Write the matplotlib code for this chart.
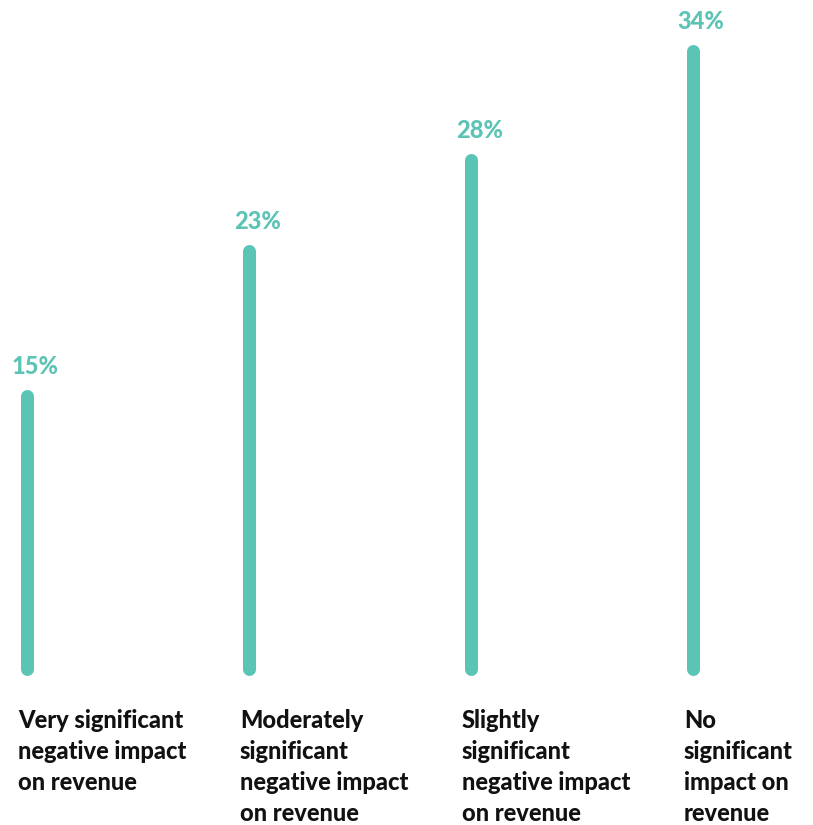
import matplotlib
matplotlib.use("Agg")
import matplotlib.pyplot as plt

categories = [
    "Very significant\nnegative impact\non revenue",
    "Moderately\nsignificant\nnegative impact\non revenue",
    "Slightly\nsignificant\nnegative impact\non revenue",
    "No\nsignificant\nimpact on\nrevenue",
]
values = [15, 23, 28, 34]
value_labels = ["15%", "23%", "28%", "34%"]

TEAL = "#5bc4b4"
DPI = 100
W, H = 813, 825

fig = plt.figure(figsize=(W / DPI, H / DPI), dpi=DPI)
ax = fig.add_axes([0, 0, 1, 1])

# pixel-based layout: bar spacing, zero line and scale
x0_px, step_px = 27, 222
zero_px, px_per_unit = 668.5, 18.15
ax.set_xlim(-x0_px / step_px, (W - x0_px) / step_px)
ax.set_ylim((zero_px - H) / px_per_unit, zero_px / px_per_unit)
ax.axis("off")

lw_pt = 13 * 72 / DPI
font = "Lato"
for i, (v, lab, cat) in enumerate(zip(values, value_labels, categories)):
    ax.plot([i, i], [0, v], color=TEAL, lw=lw_pt, solid_capstyle="round")
    ax.annotate(lab, xy=(i, v), xytext=(-11, 13), textcoords="offset points",
                ha="left", va="bottom", color=TEAL, fontsize=17,
                fontweight="black", family=font)
    ax.annotate(cat, xy=(i, 0), xytext=(-6.5, -29), textcoords="offset points",
                ha="left", va="top", color="#111111", fontsize=17,
                fontweight="black", family=font, linespacing=1.42)

fig.savefig("out.png", dpi=DPI)
